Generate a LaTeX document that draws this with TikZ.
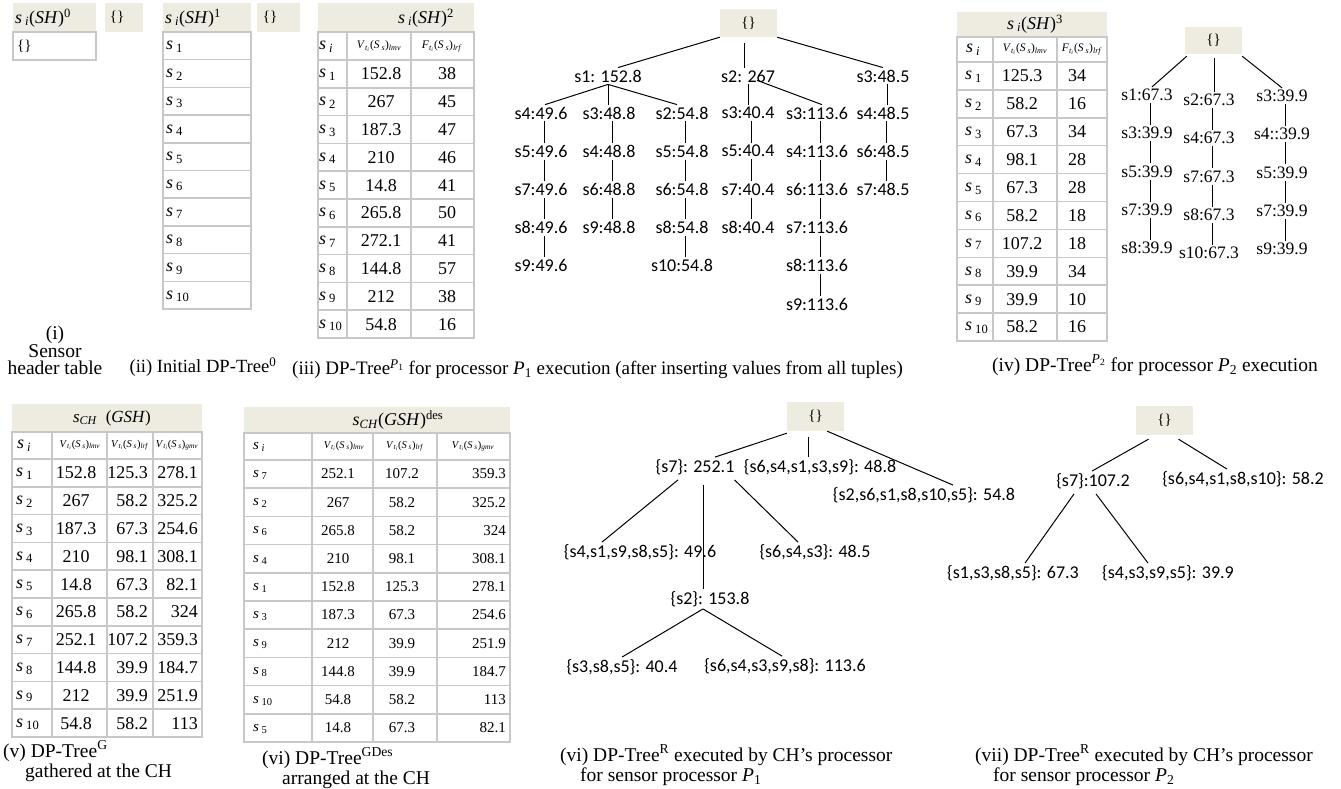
\documentclass[tikz,border=0pt]{standalone}
\usepackage{fontspec}
\setmainfont{Liberation Serif}
\newfontfamily\lblfont{Carlito}
\usetikzlibrary{positioning}
\definecolor{hdrbg}{RGB}{238,236,225}
\definecolor{cellgray}{RGB}{200,200,200}
\newcommand\sv[1]{\textit{s}\,\textsubscript{#1}}
\newcommand\shdr[1]{\textit{s}\,\textsubscript{\textit{i}}(\textit{SH})\textsuperscript{#1}}
\newcommand\colhdr[2]{\textit{#1}\textsubscript{\textit{t}\textsubscript{\textit{i}}}(\textit{S}\,\textsubscript{\textit{s}})\textsubscript{\textit{#2}}}
\tikzset{
  cell/.style={draw=cellgray, line width=1.5pt},
  txt/.style={inner sep=0pt, font=\fontsize{18}{20}\selectfont},
  stxt/.style={inner sep=0pt, font=\fontsize{15}{16}\selectfont},
  colh/.style={inner sep=0pt, font=\fontsize{11.5}{13}\selectfont},
  brace/.style={inner sep=0pt, font=\fontsize{15}{16}\selectfont},
  lbl/.style={inner sep=2pt, font=\lblfont\fontsize{18}{20}\selectfont},
  tlbl/.style={inner sep=2pt, font=\fontsize{17.5}{20}\selectfont},
  rootbox/.style={fill=hdrbg, minimum width=57pt, minimum height=28pt, inner sep=0pt, font=\fontsize{15}{16}\selectfont},
  conn/.style={line width=1pt},
  captxt/.style={inner sep=0pt, font=\fontsize{19.5}{20}\selectfont},
}
\begin{document}
\begin{tikzpicture}[x=1pt,y=-1pt]
\useasboundingbox (0,0) rectangle (1341,789);

% (i) sensor header table
\fill[hdrbg] (13,3) rectangle (96,32);
\node[txt, anchor=west] (tabAh) at (15,18) {\shdr{0}};
\draw[cell] (13,32) rectangle (96,60);
\node[brace, anchor=west] (tabA1) at (17,46) {\{\}};
\fill[hdrbg] (105,3) rectangle (143,32);
\node[brace] (emptyA) at (117,17) {\{\}};
\node[captxt, align=center, font=\fontsize{19.5}{17}\selectfont] (capA) at (55,350) {(i)\\Sensor\\header table};

% (ii) initial tree
\fill[hdrbg] (163,3) rectangle (251,32);
\node[txt, anchor=west] (tabBh) at (165,18) {\shdr{1}};
\foreach \k in {1,...,10} {
  \pgfmathsetmacro\ya{32+27.7*(\k-1)}
  \draw[cell] (163,\ya) rectangle (251,\ya+27.7);
  \node[txt, anchor=west] (tabB\k) at (166,\ya+15) {\sv{\k}};
}
\fill[hdrbg] (257,3) rectangle (300,32);
\node[brace] (emptyB) at (270,17) {\{\}};
\node[captxt, font=\fontsize{18.6}{20}\selectfont] (capB) at (203,367) {(ii) Initial DP-Tree\textsuperscript{0}};

% (iii) table for P1
\fill[hdrbg] (318,3) rectangle (474,32);
\node[txt] (tabCh) at (426,18) {\shdr{2}};
\draw[cell] (318,32) rectangle (347,60) (347,32) rectangle (411,60) (411,32) rectangle (474,60);
\node[txt, anchor=west] (tabChs) at (319,47) {\sv{\textit{i}}};
\node[colh] (tabChv) at (379,46) {\colhdr{V}{lmv}};
\node[colh] (tabChf) at (442,46) {\colhdr{F}{lrf}};
\foreach \v/\f [count=\k] in {152.8/38, 267/45, 187.3/47, 210/46, 14.8/41, 265.8/50, 272.1/41, 144.8/57, 212/38, 54.8/16} {
  \pgfmathsetmacro\ya{60+27.8*(\k-1)}
  \draw[cell] (318,\ya) rectangle (347,\ya+27.8) (347,\ya) rectangle (411,\ya+27.8) (411,\ya) rectangle (474,\ya+27.8);
  \node[txt, anchor=west] (tabCs\k) at (319,\ya+15) {\sv{\k}};
  \node[txt] (tabCv\k) at (381,\ya+14) {\v};
  \node[txt] (tabCf\k) at (447,\ya+14) {\f};
}

% (iii) tree for P1
\node[rootbox] (p1root) at (748.5,23) {\{\}};
\node[lbl] (p1s1) at (608,76) {s1: 152.8};
\node[lbl] (p1s2) at (748,76) {s2: 267};
\node[lbl] (p1s3) at (883,76) {s3:48.5};
\draw[conn] (p1root.south west) -- ([xshift=10pt]p1s1.north);
\draw[conn] ([yshift=-6pt]p1root.south -| 744,0) -- (p1s2.north -| 744,0);
\draw[conn] (p1root.south east) -- (p1s3.north);
\foreach \c/\x/\labs in {1/541/{s4:49.6,s5:49.6,s7:49.6,s8:49.6,s9:49.6},
    2/609/{s3:48.8,s4:48.8,s6:48.8,s9:48.8},
    3/682/{s2:54.8,s5:54.8,s6:54.8,s8:54.8,s10:54.8},
    4/748/{s3:40.4,s5:40.4,s7:40.4,s8:40.4},
    5/817/{s3:113.6,s4:113.6,s6:113.6,s7:113.6,s8:113.6,s9:113.6},
    6/883/{s4:48.5,s6:48.5,s7:48.5}} {
  \foreach \t [count=\r, remember=\r as \q (initially 0)] in \labs {
    \node[lbl] (p1-\c-\r) at (\x,{113+38.2*(\r-1)}) {\t};
    \ifnum\r>1 \draw[conn] ([xshift=3pt]p1-\c-\q.south) -- ([xshift=3pt]p1-\c-\r.north); \fi
  }
}
\draw[conn] (p1s1.south) -- ([xshift=4pt]p1-1-1.north);
\draw[conn] (p1s1.south) -- (p1s1.south |- p1-2-1.north);
\draw[conn] (p1s1.south) -- ([xshift=-5pt]p1-3-1.north);
\draw[conn] (p1s2.south) -- (p1s2.south |- p1-4-1.north);
\draw[conn] ([xshift=9pt,yshift=4pt]p1s2.south) -- ([xshift=5pt]p1-5-1.north);
\draw[conn] ([xshift=4pt]p1s3.south) -- ([xshift=4pt]p1-6-1.north);
\node[captxt, anchor=west, font=\fontsize{19}{20}\selectfont] (capC) at (292,369) {(iii) DP-Tree\textsuperscript{\textit{P}\textsubscript{1}} for processor \textit{P}\textsubscript{1} execution (after inserting values from all tuples)};

% (iv) table for P2
\fill[hdrbg] (957,12) rectangle (1107,37);
\node[txt] (tabDh) at (1035,24) {\shdr{3}};
\draw[cell] (957,37) rectangle (993,62) (993,37) rectangle (1057,62) (1057,37) rectangle (1107,62);
\node[txt, anchor=west] (tabDhs) at (966,50) {\sv{\textit{i}}};
\node[colh] (tabDhv) at (1025,49) {\colhdr{V}{lmv}};
\node[colh] (tabDhf) at (1082,49) {\colhdr{F}{lrf}};
\foreach \v/\f [count=\k] in {125.3/34, 58.2/16, 67.3/34, 98.1/28, 67.3/28, 58.2/18, 107.2/18, 39.9/34, 39.9/10, 58.2/16} {
  \pgfmathsetmacro\ya{62+27.9*(\k-1)}
  \draw[cell] (957,\ya) rectangle (993,\ya+27.9) (993,\ya) rectangle (1057,\ya+27.9) (1057,\ya) rectangle (1107,\ya+27.9);
  \node[txt, anchor=west] (tabDs\k) at (965,\ya+15) {\sv{\k}};
  \node[txt] (tabDv\k) at (1022,\ya+14) {\v};
  \node[txt] (tabDf\k) at (1077,\ya+14) {\f};
}

% (iv) tree for P2
\node[rootbox, minimum height=27pt] (p2root) at (1213.5,40.5) {\{\}};
\foreach \c/\x/\y/\labs in {1/1147/95/{s1:67.3,s3:39.9,s5:39.9,s7:39.9,s8:39.9},
    2/1209/100/{s2:67.3,s4:67.3,s7:67.3,s8:67.3,s10:67.3},
    3/1282/96/{s3:39.9,s4::39.9,s5:39.9,s7:39.9,s9:39.9}} {
  \foreach \t [count=\r, remember=\r as \q (initially 0)] in \labs {
    \node[tlbl] (p2-\c-\r) at (\x,{\y+38.3*(\r-1)}) {\t};
    \ifnum\r>1 \draw[conn] ([xshift=3pt]p2-\c-\q.south) -- ([xshift=3pt]p2-\c-\r.north); \fi
  }
}
\draw[conn] ([xshift=2pt,yshift=-2pt]p2root.south west) -- ([xshift=5pt]p2-1-1.north);
\draw[conn] ([xshift=1pt,yshift=-4pt]p2root.south) -- ([xshift=1pt]p2root.south |- p2-2-1.north);
\draw[conn] ([yshift=-2pt]p2root.south east) -- (p2-3-1.north);
\node[captxt, anchor=west] (capD) at (992,365) {(iv) DP-Tree\textsuperscript{\textit{P}\textsubscript{2}} for processor \textit{P}\textsubscript{2} execution};

% (v) gathered table
\fill[hdrbg] (12,404) rectangle (202,432);
\node[txt, font=\fontsize{17}{18}\selectfont] (tabEh) at (112,418) {\textit{s}\textsubscript{\textit{CH}}\ \ (\textit{GSH})};
\draw[cell] (12,432) rectangle (52,459) (52,432) rectangle (107,459) (107,432) rectangle (153,459) (153,432) rectangle (202,459);
\node[txt, anchor=west] (tabEhs) at (17,446) {\sv{\textit{i}}};
\node[colh, font=\fontsize{10.5}{12}\selectfont] (tabEhl) at (80,445) {\colhdr{V}{lmv}};
\node[colh, font=\fontsize{10.5}{12}\selectfont] (tabEhr) at (130,445) {\colhdr{V}{lrf}};
\node[colh, font=\fontsize{10.5}{12}\selectfont] (tabEhg) at (177,445) {\colhdr{V}{gmv}};
\foreach \v/\r/\g [count=\k] in {152.8/125.3/278.1, 267/58.2/325.2, 187.3/67.3/254.6, 210/98.1/308.1, 14.8/67.3/82.1, 265.8/58.2/324, 252.1/107.2/359.3, 144.8/39.9/184.7, 212/39.9/251.9, 54.8/58.2/113} {
  \pgfmathsetmacro\ya{459+27.8*(\k-1)}
  \draw[cell] (12,\ya) rectangle (52,\ya+27.8) (52,\ya) rectangle (107,\ya+27.8) (107,\ya) rectangle (153,\ya+27.8) (153,\ya) rectangle (202,\ya+27.8);
  \node[txt, anchor=west] (tabEs\k) at (16,\ya+15) {\sv{\k}};
  \node[txt] (tabEl\k) at (76,\ya+14) {\v};
  \node[txt, anchor=east] (tabEr\k) at (148,\ya+14) {\r};
  \node[txt, anchor=east] (tabEg\k) at (198,\ya+14) {\g};
}
\node[captxt, anchor=west, align=left] (capE) at (3,761) {(v) DP-Tree\textsuperscript{G}\\\hspace*{22pt}gathered at the CH};

% (vi) arranged table
\fill[hdrbg] (244,407) rectangle (510,433);
\node[txt] (tabFh) at (398,420) {\textit{s}\textsubscript{\textit{CH}}(\textit{GSH})\textsuperscript{des}};
\draw[cell] (244,433) rectangle (312,460) (312,433) rectangle (373,460) (373,433) rectangle (437,460) (437,433) rectangle (510,460);
\node[stxt, anchor=west] (tabFhs) at (253,447) {\sv{\textit{i}}};
\node[colh, font=\fontsize{10.5}{12}\selectfont] (tabFhl) at (344,446) {\colhdr{V}{lmv}};
\node[colh, font=\fontsize{10.5}{12}\selectfont] (tabFhr) at (405,446) {\colhdr{V}{lrf}};
\node[colh, font=\fontsize{10.5}{12}\selectfont] (tabFhg) at (473,446) {\colhdr{V}{gmv}};
\foreach \i/\v/\r/\g [count=\k] in {7/252.1/107.2/359.3, 2/267/58.2/325.2, 6/265.8/58.2/324, 4/210/98.1/308.1, 1/152.8/125.3/278.1, 3/187.3/67.3/254.6, 9/212/39.9/251.9, 8/144.8/39.9/184.7, 10/54.8/58.2/113, 5/14.8/67.3/82.1} {
  \pgfmathsetmacro\ya{460+28.2*(\k-1)}
  \draw[cell] (244,\ya) rectangle (312,\ya+28.2) (312,\ya) rectangle (373,\ya+28.2) (373,\ya) rectangle (437,\ya+28.2) (437,\ya) rectangle (510,\ya+28.2);
  \node[stxt, anchor=west] (tabFs\k) at (253,\ya+15) {\sv{\i}};
  \node[stxt] (tabFl\k) at (338,\ya+14) {\v};
  \node[stxt] (tabFr\k) at (402,\ya+14) {\r};
  \node[stxt, anchor=east] (tabFg\k) at (506,\ya+14) {\g};
}
\node[captxt, anchor=west, align=left] (capF) at (262,768) {(vi) DP-Tree\textsuperscript{GDes}\\\hspace*{20pt}arranged at the CH};

% (vi) result tree for P1
\node[rootbox, minimum height=29pt] (r1root) at (815.5,416.5) {\{\}};
\node[lbl] (r1a) at (695,467) {\{s7\}: 252.1};
\node[lbl] (r1b) at (820,467) {\{s6,s4,s1,s3,s9\}: 48.8};
\node[lbl] (r1c) at (924,495) {\{s2,s6,s1,s8,s10,s5\}: 54.8};
\node[lbl] (r1d) at (640,552) {\{s4,s1,s9,s8,s5\}: 49.6};
\node[lbl] (r1e) at (815,552) {\{s6,s4,s3\}: 48.5};
\node[lbl] (r1f) at (710,599) {\{s2\}: 153.8};
\node[lbl] (r1g) at (622,667) {\{s3,s8,s5\}: 40.4};
\node[lbl] (r1h) at (785,666) {\{s6,s4,s3,s9,s8\}: 113.6};
\draw[conn] ([yshift=-2pt]r1root.south west) -- ([xshift=20pt]r1a.north);
\draw[conn] ([xshift=-7pt,yshift=-6pt]r1root.south) -- ([xshift=-7pt]r1root.south |- r1b.north);
\draw[conn] ([xshift=-17pt]r1root.south east) -- ([xshift=29pt]r1c.north);
\draw[conn] ([xshift=-17pt,yshift=-3pt]r1a.south) -- ([xshift=-38pt]r1d.north);
\draw[conn] ([xshift=8pt,yshift=-8pt]r1a.south) -- ([xshift=8pt]r1a.south |- r1f.north);
\draw[conn] ([xshift=-2pt,yshift=-3pt]r1a.south east) -- ([xshift=-17pt]r1e.north);
\draw[conn] ([xshift=-7pt]r1f.south) -- (r1g.north);
\draw[conn] ([xshift=-7pt]r1f.south) -- ([xshift=-3pt]r1h.north);
\node[captxt, anchor=west, align=left] (capG) at (560,765) {(vi) DP-Tree\textsuperscript{R} executed by CH's processor\\\hspace*{20pt}for sensor processor \textit{P}\textsubscript{1}};

% (vii) result tree for P2
\node[rootbox, minimum height=29pt] (r2root) at (1164.5,420.5) {\{\}};
\node[lbl] (r2a) at (1093,481) {\{s7\}:107.2};
\node[lbl] (r2b) at (1243,479) {\{s6,s4,s1,s8,s10\}: 58.2};
\node[lbl] (r2c) at (1013,573) {\{s1,s3,s8,s5\}: 67.3};
\node[lbl] (r2d) at (1168,573) {\{s4,s3,s9,s5\}: 39.9};
\draw[conn] ([xshift=-16pt,yshift=-4pt]r2root.south) -- ([xshift=-1pt]r2a.north);
\draw[conn] ([xshift=14pt,yshift=-4pt]r2root.south) -- ([xshift=-16pt]r2b.north);
\draw[conn] ([xshift=-19pt,yshift=-3pt]r2a.south) -- ([xshift=12pt]r2c.north);
\draw[conn] ([xshift=3pt,yshift=-3pt]r2a.south) -- ([xshift=-20pt]r2d.north);
\node[captxt, anchor=west, align=left] (capH) at (975,765) {(vii) DP-Tree\textsuperscript{R} executed by CH's processor\\\hspace*{18pt}for sensor processor \textit{P}\textsubscript{2}};
\end{tikzpicture}
\end{document}
